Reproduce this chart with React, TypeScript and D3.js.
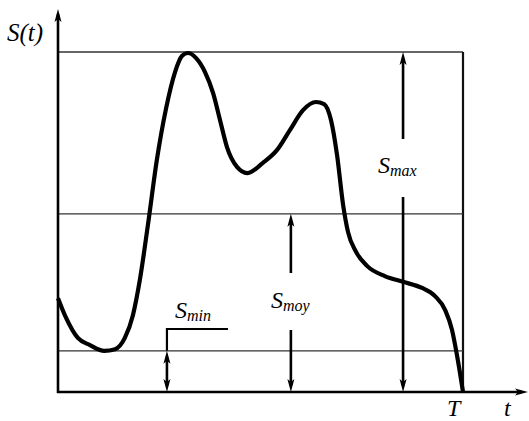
import React from "react";
import * as d3 from "d3";

const tValues = [0, 0.2, 0.49, 0.79, 1.14, 1.41, 1.65, 1.85, 2.02, 2.22, 2.44, 2.67, 2.89, 3.06, 3.21, 3.41, 3.63, 3.83, 4.0, 4.17, 4.42, 4.67, 5.06, 5.41, 5.73, 6.05, 6.37, 6.57, 6.74, 6.89, 7.04, 7.16, 7.36, 7.63, 8.07, 8.52, 8.99, 9.31, 9.56, 9.73, 9.85, 10];
const sValues = [2.76, 2.18, 1.59, 1.38, 1.21, 1.26, 1.59, 2.26, 3.29, 4.91, 6.82, 8.35, 9.41, 9.88, 9.97, 9.82, 9.41, 8.79, 8.0, 7.21, 6.62, 6.44, 6.74, 7.12, 7.71, 8.29, 8.53, 8.47, 8.0, 6.97, 5.5, 4.71, 4.12, 3.71, 3.41, 3.24, 3.06, 2.82, 2.41, 1.82, 1.09, 0];
const levelNames = ["max", "moy", "min"];
const levelValues = [10, 5.24, 1.21];
const arrowT = [8.52, 5.75, 2.69];
const T_END = 10;

export default function App() {
  const W = 529, H = 421;
  const x = d3.scaleLinear().domain([0, T_END]).range([58, 463]);
  const y = d3.scaleLinear().domain([0, 10]).range([392, 52]);
  const pts: [number, number][] = tValues.map((t, i) => [t, sValues[i]]);
  const line = d3.line<[number, number]>().x(d => x(d[0])).y(d => y(d[1])).curve(d3.curveMonotoneX);

  const head = (px: number, py: number, dir: number, key: string) => {
    const L = 13, w = 3.5;
    const d = `M${px},${py} L${px - w},${py - dir * L} L${px},${py - dir * (L - 3)} L${px + w},${py - dir * L} Z`;
    return <path key={key} d={d} fill="#000" />;
  };

  const y0 = y(0);
  const font = "Liberation Serif, DejaVu Serif, serif";

  const ax = levelValues.map((_, i) => x(arrowT[i]));
  const ymax = y(levelValues[0]);
  const ymoy = y(levelValues[1]);
  const ymin = y(levelValues[2]);

  return (
    <svg width={W} height={H} style={{ position: "absolute", left: 0, top: 0, background: "#fff", fontFamily: font }}>
      <line x1={x(0)} x2={x(T_END)} y1={ymax} y2={ymax} stroke="#333" strokeWidth={1.4} />
      <line x1={x(T_END)} x2={x(T_END)} y1={ymax} y2={y0} stroke="#111" strokeWidth={2.2} />
      <line x1={x(0)} x2={x(T_END)} y1={ymoy} y2={ymoy} stroke="#333" strokeWidth={1.4} />
      <line x1={x(0)} x2={x(T_END)} y1={ymin} y2={ymin} stroke="#333" strokeWidth={1.4} />

      <line x1={x(0)} x2={x(0)} y1={y0 + 1} y2={14} stroke="#000" strokeWidth={2.6} />
      {head(x(0), 9, -1, "ya")}
      <line x1={x(0) - 1} x2={522} y1={y0} y2={y0} stroke="#000" strokeWidth={2.6} />
      <path d={`M528,${y0} L515,${y0 - 3.5} L518,${y0} L515,${y0 + 3.5} Z`} fill="#000" />

      <path d={line(pts) || ""} fill="none" stroke="#000" strokeWidth={4.2} strokeLinejoin="round" />

      <line x1={ax[0]} x2={ax[0]} y1={ymax + 6} y2={139} stroke="#000" strokeWidth={2.6} />
      <line x1={ax[0]} x2={ax[0]} y1={197} y2={y0 - 6} stroke="#000" strokeWidth={2.6} />
      {head(ax[0], ymax, -1, "h1")}
      {head(ax[0], y0, 1, "h2")}
      <text x={378} y={173} fontFamily={font} fontStyle="italic" fontSize={24}>S<tspan fontSize={16} dy={3}>{levelNames[0]}</tspan></text>

      <line x1={ax[1]} x2={ax[1]} y1={ymoy + 6} y2={273} stroke="#000" strokeWidth={2.6} />
      <line x1={ax[1]} x2={ax[1]} y1={330} y2={y0 - 6} stroke="#000" strokeWidth={2.6} />
      {head(ax[1], ymoy, -1, "h3")}
      {head(ax[1], y0, 1, "h4")}
      <text x={271} y={308} fontFamily={font} fontStyle="italic" fontSize={24}>S<tspan fontSize={16} dy={3}>{levelNames[1]}</tspan></text>

      <line x1={ax[2]} x2={ax[2]} y1={ymin + 6} y2={y0 - 6} stroke="#000" strokeWidth={2.6} />
      {head(ax[2], ymin, -1, "h5")}
      {head(ax[2], y0, 1, "h6")}
      <path d={`M${ax[2]},${ymin} L${ax[2]},329 L228,329`} fill="none" stroke="#000" strokeWidth={2.2} />
      <text x={175} y={318} fontFamily={font} fontStyle="italic" fontSize={24}>S<tspan fontSize={16} dy={3}>{levelNames[2]}</tspan></text>

      <text x={7} y={41} fontFamily={font} fontStyle="italic" fontSize={25}>S(t)</text>
      <text x={447} y={416} fontFamily={font} fontStyle="italic" fontSize={24}>T</text>
      <text x={504} y={416} fontFamily={font} fontStyle="italic" fontSize={24}>t</text>
    </svg>
  );
}
